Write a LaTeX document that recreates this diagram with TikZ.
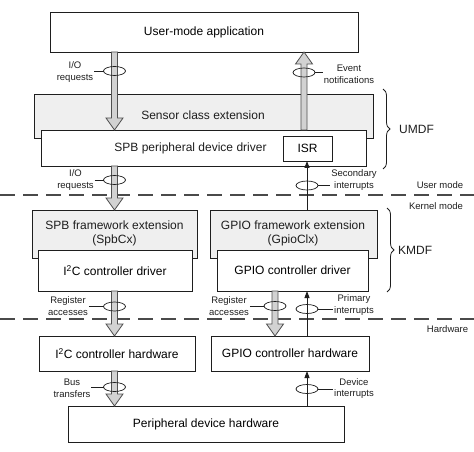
\documentclass[tikz,border=0pt]{standalone}
\usepackage{fontspec}
\setmainfont{Liberation Sans}
\usetikzlibrary{arrows.meta,shapes.geometric,decorations.pathreplacing,calc}
\definecolor{boxgray}{HTML}{EFEFEF}
\definecolor{arrfill}{HTML}{D2D2D2}
\definecolor{arredge}{HTML}{505050}
\definecolor{ink}{HTML}{1E1E1E}
\definecolor{dashgray}{HTML}{4A4A4A}
\newcommand{\garrow}[3]{%
  \draw[gshaft] let \p1=(#1), \p2=(#2) in
    (\x1-3bp,\y1) -- (\x1-3bp,\y2#3) -- (\x1-8.5bp,\y2#3) -- (\x1,\y2)
    -- (\x1+8.5bp,\y2#3) -- (\x1+3bp,\y2#3) -- (\x1+3bp,\y1) -- cycle;}
\tikzset{
  box/.style={draw=ink, line width=0.9bp, fill=white, inner sep=0pt, outer sep=0pt,
    font=\fontsize{12bp}{14bp}\selectfont, align=center},
  graybox/.style={box, fill=boxgray},
  lbl/.style={inner sep=0pt, outer sep=1pt, align=center, text=ink,
    font=\fontsize{9.5bp}{11.7bp}\selectfont},
  side/.style={inner sep=0pt, text=ink, font=\fontsize{12bp}{14bp}\selectfont},
  ringnode/.style={ellipse, draw=ink, line width=0.7bp, minimum width=22bp, minimum height=9bp, inner sep=0pt, outer sep=0pt},
  leader/.style={draw=ink, line width=0.7bp},
  gshaft/.style={draw=arredge, fill=arrfill, line width=0.8bp, line join=miter},
  thin/.style={draw=ink, line width=0.9bp, -{Triangle[length=7bp,width=5bp]}},
  dashline/.style={draw=dashgray, line width=1.3bp, dash pattern=on 15bp off 8bp},
  bracestyle/.style={draw=ink, line width=0.8bp, decorate, decoration={brace, amplitude=7bp}}
}
\begin{document}
\begin{tikzpicture}[x=1bp, y=-1bp]
\useasboundingbox (0,0) rectangle (474,452);

% layer separators
\draw[dashline] (0,195) -- (474,195);
\draw[dashline] (0,319) -- (474,319);
\node[lbl, anchor=center] (um) at (440,185) {User mode};
\node[lbl, anchor=center] (km) at (436,206.5) {Kernel mode};
\node[lbl, anchor=center] (hw) at (447.5,329.5) {Hardware};

% boxes
\node[box, minimum width=308bp, minimum height=40bp] (app) at (204,32) {User-mode application};
\node[graybox, minimum width=339bp, minimum height=44bp, anchor=north west] (sensor) at (34,94) {};
\node[side] (sensortxt) at (203,115) {Sensor class extension};
\node[box, minimum width=325bp, minimum height=36bp, anchor=north west] (spbdrv) at (41,130) {};
\node[side] (spbdrvtxt) at (190.5,148) {SPB peripheral device driver};
\node[box, minimum width=49bp, minimum height=25bp, anchor=north west] (isr) at (283,136) {ISR};

\node[graybox, minimum width=165bp, minimum height=48bp, anchor=north west] (spbcx) at (32,210) {};
\node[side, align=center] (spbcxtxt) at (114.5,233) {SPB framework extension\\(SpbCx)};
\node[graybox, minimum width=167bp, minimum height=48bp, anchor=north west] (gpiocx) at (210,210) {};
\node[side, align=center] (gpiocxtxt) at (293,233) {GPIO framework extension\\(GpioClx)};
\node[box, minimum width=154bp, minimum height=41bp, anchor=north west] (i2cdrv) at (38,250) {I\textsuperscript{2}C controller driver};
\node[box, minimum width=151bp, minimum height=41bp, anchor=north west] (gpiodrv) at (217,250) {GPIO controller driver};
\node[box, minimum width=156bp, minimum height=35bp, anchor=north west] (i2chw) at (39,336) {I\textsuperscript{2}C controller hardware};
\node[box, minimum width=158bp, minimum height=35bp, anchor=north west] (gpiohw) at (211,336) {GPIO controller hardware};
\node[box, minimum width=276bp, minimum height=36bp, anchor=north west] (periph) at (68,406) {Peripheral device hardware};

% column reference coordinates
\coordinate (lx) at (114.5,0);
\coordinate (ev) at (304,0);
\coordinate (rx) at (275,0);
\coordinate (tx) at (307,0);

% braces
\coordinate (ub1) at (383,89);
\coordinate (ub2) at (383,169);
\draw[bracestyle] (ub1) -- (ub2);
\node[side, anchor=west] (umdf) at (399,129) {UMDF};
\coordinate (kb1) at (387,208);
\coordinate (kb2) at (387,292);
\draw[bracestyle] (kb1) -- (kb2);
\node[side, anchor=west] (kmdf) at (398,250) {KMDF};

% arrows, rings and labels
\garrow{app.south -| lx}{spbdrv.north -| lx}{+12bp}
\node[lbl] (l1) at (75,72) {I/O\\requests};
\node[ringnode] (e1) at (114.5,71) {};
\draw[leader] (l1.east |- e1.west) -- (e1.west);

\garrow{spbdrv.north -| ev}{app.south -| ev}{-12bp}
\node[lbl] (l2) at (349,74) {Event\\notifications};
\node[ringnode] (e2) at (304,72.5) {};
\draw[leader] (e2.east) -- (e2.east -| l2.west);

\garrow{spbdrv.south -| lx}{spbcx.north -| lx}{+12bp}
\node[lbl] (l3) at (75.5,180) {I/O\\requests};
\node[ringnode] (e3) at (114.5,180) {};
\draw[leader] (l3.east |- e3.west) -- (e3.west);

\draw[thin] (gpiocx.north -| tx) -- (isr.south -| tx);
\node[lbl] (l4) at (354,180) {Secondary\\interrupts};
\node[ringnode] (e4) at (307,185.5) {};
\draw[leader] (e4.east) -- (e4.east -| l4.west);

\garrow{i2cdrv.south -| lx}{i2chw.north -| lx}{+12bp}
\node[lbl] (l5) at (68,306) {Register\\accesses};
\node[ringnode] (e5) at (114.5,306.5) {};
\draw[leader] (l5.east |- e5.west) -- (e5.west);

\garrow{gpiodrv.south -| rx}{gpiohw.north -| rx}{+12bp}
\node[lbl] (l6) at (229,306) {Register\\accesses};
\node[ringnode] (e6) at (275,306) {};
\draw[leader] (l6.east |- e6.west) -- (e6.west);

\draw[thin] (gpiohw.north -| tx) -- (gpiodrv.south -| tx);
\node[lbl] (l7) at (354,305) {Primary\\interrupts};
\node[ringnode] (e7) at (307,309) {};
\draw[leader] (e7.east) -- (e7.east -| l7.west);

\garrow{i2chw.south -| lx}{periph.north -| lx}{+12bp}
\node[lbl] (l8) at (72,388.5) {Bus\\transfers};
\node[ringnode] (e8) at (114.5,387) {};
\draw[leader] (l8.east |- e8.west) -- (e8.west);

\draw[thin] (periph.north -| tx) -- (gpiohw.south -| tx);
\node[lbl] (l9) at (354,388.5) {Device\\interrupts};
\node[ringnode] (e9) at (307,389) {};
\draw[leader] (e9.east) -- (e9.east -| l9.west);
\end{tikzpicture}
\end{document}
